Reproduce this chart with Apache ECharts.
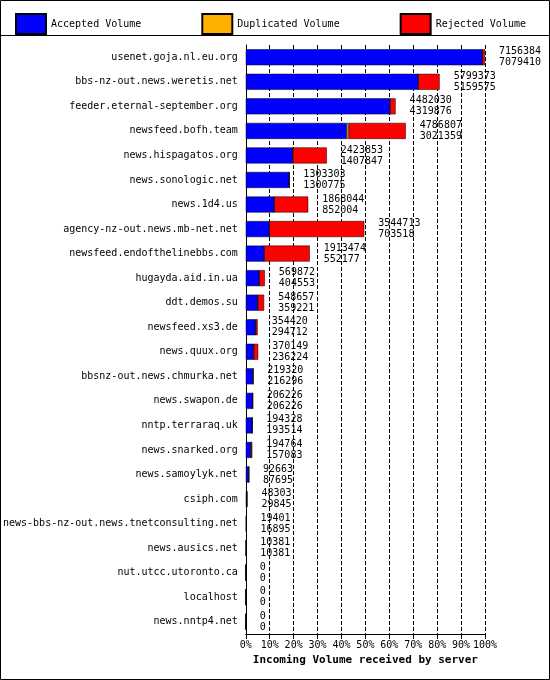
<!DOCTYPE html>
<html><head><meta charset="utf-8">
<script src="https://cdn.jsdelivr.net/npm/echarts@6/dist/echarts.min.js"></script>
<style>body{margin:0}#c{width:550px;height:680px}</style></head>
<body><div id="c"></div>
<script>
const servers = ["usenet.goja.nl.eu.org","bbs-nz-out.news.weretis.net","feeder.eternal-september.org","newsfeed.bofh.team","news.hispagatos.org","news.sonologic.net","news.1d4.us","agency-nz-out.news.mb-net.net","newsfeed.endofthelinebbs.com","hugayda.aid.in.ua","ddt.demos.su","newsfeed.xs3.de","news.quux.org","bbsnz-out.news.chmurka.net","news.swapon.de","nntp.terraraq.uk","news.snarked.org","news.samoylyk.net","csiph.com","news-bbs-nz-out.news.tnetconsulting.net","news.ausics.net","nut.utcc.utoronto.ca","localhost","news.nntp4.net"];
const totals = [7156384,5799373,4482030,4786807,2423853,1303303,1868044,3544713,1913474,569872,548657,354420,370149,219320,206226,194328,194764,92663,48303,19401,10381,0,0,0];
const accepted = [7079410,5159575,4319876,3021359,1407847,1300775,852004,703518,552177,404553,359221,294712,236224,216296,206226,193514,157083,87695,29845,16895,10381,0,0,0];
const duplicated = [0,0,0,60000,0,2528,0,0,0,0,0,0,0,3024,0,0,0,4968,0,2506,0,0,0,0];
const rejected = totals.map((t, i) => t - accepted[i] - duplicated[i]);
const maxTotal = Math.max(...totals);
const font = "DejaVu Sans Mono";
const c = echarts.init(document.getElementById("c"));
const bar = (name, data, color) => ({
  name, type: "bar", stack: "v", data, barWidth: 16,
  itemStyle: { color, borderColor: "#000", borderWidth: 0.5 }
});
c.setOption({
  animation: false,
  textStyle: { fontFamily: font },
  legend: {
    top: 8, left: 10, itemGap: 60, itemWidth: 30, itemHeight: 20, icon: "rect",
    textStyle: { fontFamily: font, fontSize: 10, color: "#000" },
    data: ["Accepted Volume", "Duplicated Volume", "Rejected Volume"]
  },
  graphic: [
    { type: "rect", shape: { x: 0.5, y: 0.5, width: 549, height: 679 }, style: { fill: "none", stroke: "#000" } },
    { type: "line", shape: { x1: 0, y1: 35.5, x2: 550, y2: 35.5 }, style: { stroke: "#000" } }
  ],
  grid: { left: 243, right: 65, top: 45, bottom: 46 },
  xAxis: {
    type: "value", min: 0, max: maxTotal, interval: maxTotal / 10,
    name: "Incoming Volume received by server", nameLocation: "middle", nameGap: 20,
    nameTextStyle: { fontFamily: font, fontWeight: "bold", fontSize: 11, color: "#000" },
    axisLine: { show: true, lineStyle: { color: "#000" } },
    axisTick: { show: true, lineStyle: { color: "#000" } },
    axisLabel: { fontSize: 10, color: "#000", margin: 6, formatter: v => Math.round(v / maxTotal * 100) + "%" },
    splitLine: { show: true, lineStyle: { color: "#000", type: "dashed" } }
  },
  yAxis: {
    type: "category", data: servers, inverse: true,
    axisLine: { lineStyle: { color: "#000" } }, axisTick: { show: false },
    axisLabel: { fontSize: 10, color: "#000" }
  },
  series: [
    bar("Accepted Volume", accepted, "#0000ff"),
    bar("Duplicated Volume", duplicated, "#ffb000"),
    bar("Rejected Volume", rejected, "#ff0000"),
    {
      type: "bar", stack: "v", data: totals.map(() => 0), barWidth: 16,
      label: {
        show: true, position: "right", distance: 14, fontSize: 10, color: "#000", lineHeight: 11,
        formatter: p => totals[p.dataIndex] + "\n" + accepted[p.dataIndex]
      }
    }
  ]
});
</script></body></html>
